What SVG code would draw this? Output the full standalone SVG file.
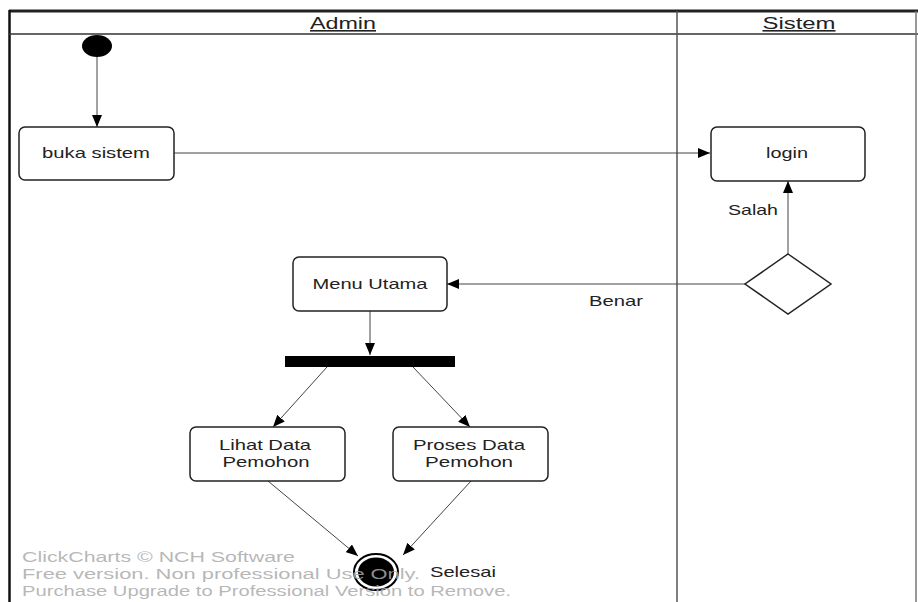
<svg xmlns="http://www.w3.org/2000/svg" width="918" height="602" viewBox="0 0 918 602">
<defs>
<style>
text{font-family:"Liberation Sans",Arial,sans-serif;fill:#222}
.hdr{font-size:16px;text-decoration:underline;text-anchor:middle}
.lbl{font-size:15px;text-anchor:middle}
.box{fill:#fff;stroke:#222;stroke-width:1.5}
.c{stroke:#444;stroke-width:1;fill:none;marker-end:url(#ah)}
.wm{font-size:15.5px;fill:#aaa;fill-opacity:0.85}
</style>
<marker id="ah" viewBox="0 0 12 10" refX="12" refY="5" markerWidth="12" markerHeight="10" markerUnits="userSpaceOnUse" orient="auto">
<path d="M0,0 L12,5 L0,10 Z" fill="#000"/>
</marker>
</defs>
<rect width="918" height="602" fill="#fff"/>
<g id="swimlanes">
<line x1="9" y1="11" x2="918" y2="11" stroke="#222" stroke-width="3"/>
<line x1="9.5" y1="10" x2="9.5" y2="602" stroke="#111" stroke-width="2.5"/>
<line x1="9" y1="34" x2="918" y2="34" stroke="#333" stroke-width="1.5"/>
<line x1="677" y1="11" x2="677" y2="602" stroke="#555" stroke-width="1.5"/>
<line x1="916" y1="11" x2="916" y2="602" stroke="#777" stroke-width="1.5"/>
<text class="hdr" x="343" y="29" textLength="66" lengthAdjust="spacingAndGlyphs">Admin</text>
<text class="hdr" x="799" y="29" textLength="73" lengthAdjust="spacingAndGlyphs">Sistem</text>
</g>
<g id="connectors">
<line class="c" x1="97" y1="56" x2="97" y2="127"/>
<line class="c" x1="174" y1="153" x2="710" y2="153"/>
<line class="c" x1="788" y1="254" x2="788" y2="181"/>
<line class="c" x1="745" y1="284" x2="447" y2="284"/>
<line class="c" x1="370" y1="311" x2="370" y2="355"/>
<line class="c" x1="327" y1="367" x2="273" y2="427"/>
<line class="c" x1="413" y1="367" x2="470" y2="427"/>
<line class="c" x1="268" y1="481" x2="358" y2="556"/>
<line class="c" x1="471" y1="481" x2="403" y2="555"/>
<text class="lbl" x="753" y="215" textLength="50" lengthAdjust="spacingAndGlyphs">Salah</text>
<text class="lbl" x="616" y="306" textLength="54" lengthAdjust="spacingAndGlyphs">Benar</text>
</g>
<g id="start"><ellipse cx="97" cy="46" rx="15" ry="11" fill="#000"/></g>
<g id="buka-sistem"><rect class="box" x="19" y="127" width="155" height="53" rx="6"/><text class="lbl" x="96" y="158" textLength="108" lengthAdjust="spacingAndGlyphs">buka sistem</text></g>
<g id="login"><rect class="box" x="711" y="127" width="154" height="54" rx="6"/><text class="lbl" x="787" y="158" textLength="42" lengthAdjust="spacingAndGlyphs">login</text></g>
<g id="decision"><polygon points="788,254 831,284 788,314 745,284" fill="#fff" stroke="#222" stroke-width="1.5"/></g>
<g id="menu-utama"><rect class="box" x="293" y="257" width="154" height="54" rx="6"/><text class="lbl" x="370" y="289" textLength="115" lengthAdjust="spacingAndGlyphs">Menu Utama</text></g>
<g id="fork"><rect x="285" y="356" width="170" height="11" fill="#000"/></g>
<g id="lihat-data"><rect class="box" x="190" y="427" width="155" height="54" rx="6"/><text class="lbl" x="265" y="450" textLength="92" lengthAdjust="spacingAndGlyphs">Lihat Data</text><text class="lbl" x="266" y="467" textLength="87" lengthAdjust="spacingAndGlyphs">Pemohon</text></g>
<g id="proses-data"><rect class="box" x="393" y="427" width="155" height="54" rx="6"/><text class="lbl" x="469" y="450" textLength="112" lengthAdjust="spacingAndGlyphs">Proses Data</text><text class="lbl" x="469" y="467" textLength="88" lengthAdjust="spacingAndGlyphs">Pemohon</text></g>
<g id="end"><ellipse cx="376" cy="572" rx="22" ry="18" fill="#fff" stroke="#000" stroke-width="2"/><ellipse cx="376" cy="572" rx="18" ry="14.5" fill="#000"/><text x="430" y="577" style="font-size:15px" textLength="66" lengthAdjust="spacingAndGlyphs">Selesai</text></g>
<g id="watermark">
<text class="wm" x="22" y="562" textLength="273" lengthAdjust="spacingAndGlyphs">ClickCharts © NCH Software</text>
<text class="wm" x="22" y="579" textLength="398" lengthAdjust="spacingAndGlyphs">Free version. Non professional Use Only.</text>
<text class="wm" x="22" y="596" textLength="489" lengthAdjust="spacingAndGlyphs">Purchase Upgrade to Professional Version to Remove.</text>
</g>
</svg>
